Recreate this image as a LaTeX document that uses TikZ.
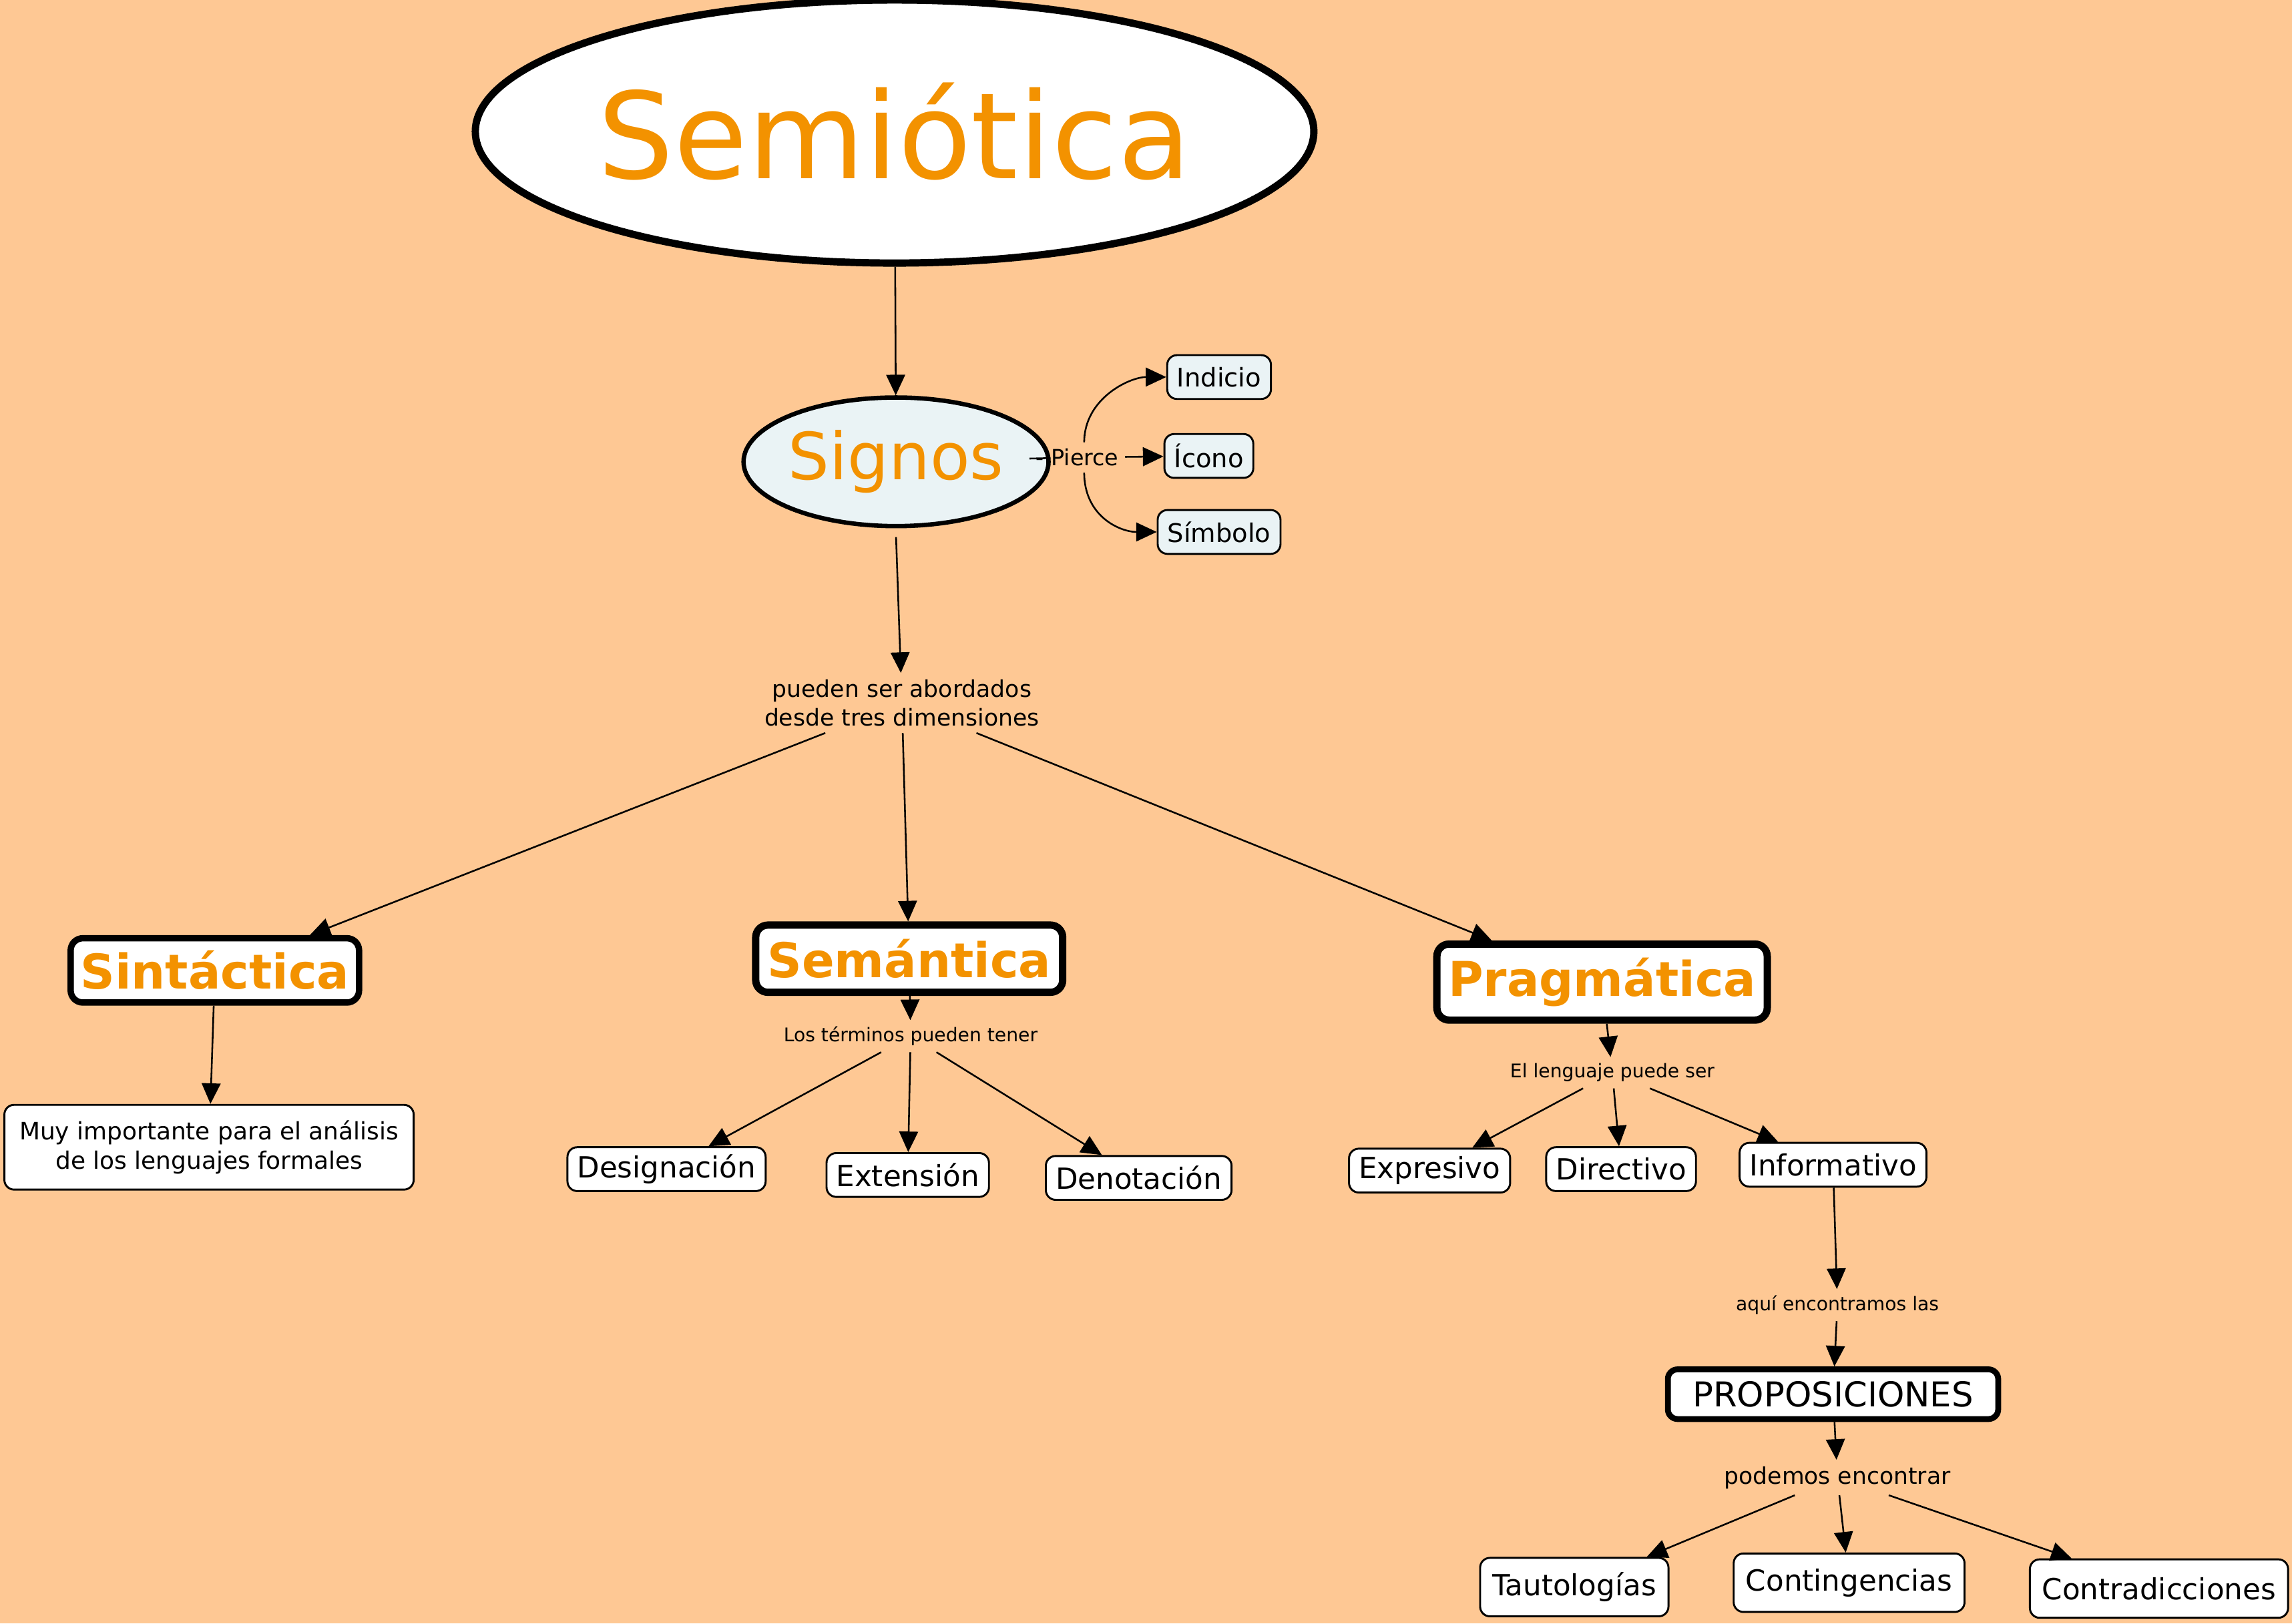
\documentclass[tikz,border=0pt]{standalone}
\usepackage{fontspec}
\setmainfont{DejaVu Sans}
\usetikzlibrary{arrows.meta,shapes.geometric}
\definecolor{fondo}{HTML}{FEC894}
\definecolor{naranja}{HTML}{F39200}
\definecolor{celeste}{HTML}{EAF3F5}

\begin{document}
\begin{tikzpicture}[x=0.3mm,y=-0.3mm,>={Triangle[length=12pt,width=11pt]},
  every path/.style={line width=0.35mm},
  caja/.style={draw,rounded corners=2mm,fill=white,line width=0.4mm,minimum height=9mm,inner xsep=2mm,font=\fontsize{15}{17}\selectfont},
  caja2/.style={caja,fill=celeste},
  grande/.style={caja,line width=1.3mm,rounded corners=2.5mm,font=\fontsize{28}{30}\selectfont\bfseries\color{naranja}},
  texto/.style={align=center,font=\fontsize{11}{13}\selectfont},
  hoja/.style={caja,minimum height=12mm,inner xsep=2.5mm,font=\fontsize{17}{19}\selectfont}]

\fill[fondo] (0,0) rectangle (1568,1111);
\useasboundingbox (0,0) rectangle (1568,1111);

\node[ellipse,draw,fill=white,inner sep=0pt,line width=1.5mm,minimum width=133.8mm,minimum height=54mm,font=\fontsize{70}{74}\selectfont\color{naranja}] (semiotica) at (612,90) {Semiótica};
\node[ellipse,draw,fill=celeste,inner sep=0pt,line width=0.9mm,minimum width=51.6mm,minimum height=26.4mm,font=\fontsize{38}{42}\selectfont\color{naranja}] (signos) at (613,316) {Signos};
\node[texto,font=\fontsize{13}{15}\selectfont] (pierce) at (737,313) {- Pierce};
\node[caja2] (indicio) at (834,258) {Indicio};
\node[caja2] (icono) at (827,312) {Ícono};
\node[caja2] (simbolo) at (834,364) {Símbolo};
\node[texto,font=\fontsize{13.5}{17}\selectfont] (dims) at (617,481) {pueden ser abordados\\desde tres dimensiones};

\node[grande,minimum width=58.8mm,minimum height=13.2mm] (sintactica) at (147,664) {Sintáctica};
\node[grande,line width=1.5mm,minimum width=63mm,minimum height=13.8mm] (semantica) at (622,656) {Semántica};
\node[grande,line width=1.5mm,minimum width=67.8mm,minimum height=15.6mm] (pragmatica) at (1096,672) {Pragmática};

\node[caja,align=center,minimum width=84mm,minimum height=17.4mm,font=\fontsize{14}{17}\selectfont] (muy) at (143,785) {Muy importante para el análisis\\de los lenguajes formales};

\node[texto] (terminos) at (623,709) {Los términos pueden tener};
\node[caja,font=\fontsize{17}{19}\selectfont] (designacion) at (456,800) {Designación};
\node[caja,font=\fontsize{17}{19}\selectfont] (extension) at (621,804) {Extensión};
\node[caja,font=\fontsize{17}{19}\selectfont] (denotacion) at (779,806) {Denotación};

\node[texto] (lenguaje) at (1103,734) {El lenguaje puede ser};
\node[caja,font=\fontsize{17}{19}\selectfont] (expresivo) at (978,801) {Expresivo};
\node[caja,font=\fontsize{17}{19}\selectfont] (directivo) at (1109,800) {Directivo};
\node[caja,font=\fontsize{17}{19}\selectfont] (informativo) at (1254,797) {Informativo};

\node[texto] (aqui) at (1257,893) {aquí encontramos las};
\node[caja,line width=1.2mm,minimum width=67.8mm,minimum height=10.2mm,font=\fontsize{20}{22}\selectfont] (proposiciones) at (1254,954) {PROPOSICIONES};
\node[texto,font=\fontsize{13.5}{15}\selectfont] (podemos) at (1257,1011) {podemos encontrar};
\node[hoja] (tautologias) at (1077,1086) {Tautologías};
\node[hoja] (contingencias) at (1265,1083) {Contingencias};
\node[hoja] (contradicciones) at (1477,1087) {Contradicciones};

\draw[->] (semiotica) -- (signos);
\draw (signos) -- (pierce);
\draw[->] (pierce) -- (icono);
\draw[->] (pierce.north east) ++(-28,0) .. controls +(0,-30) and +(-25,0) .. (indicio.west);
\draw[->] (pierce.south east) ++(-28,0) .. controls +(0,30) and +(-25,0) .. (simbolo.west);
\draw[->] (signos.south) ++(0,6) -- (dims);
\draw[->] (dims) -- ([xshift=65*0.3mm]sintactica.north);
\draw[->] (dims) -- (semantica);
\draw[->] (dims) -- ([xshift=40*0.3mm]pragmatica.north west);
\draw[->] (sintactica) -- (muy);
\draw[->] (semantica) -- (terminos);
\draw[->] (terminos) -- (designacion);
\draw[->] (terminos) -- (extension);
\draw[->] (terminos) -- (denotacion);
\draw[->] (pragmatica) -- (lenguaje);
\draw[->] (lenguaje) -- (expresivo);
\draw[->] (lenguaje) -- (directivo);
\draw[->] (lenguaje) -- (informativo);
\draw[->] (informativo) -- (aqui);
\draw[->] (aqui) -- (proposiciones);
\draw[->] (proposiciones) -- (podemos);
\draw[->] (podemos) -- (tautologias);
\draw[->] (podemos) -- (contingencias);
\draw[->] (podemos) -- (contradicciones);
\end{tikzpicture}
\end{document}
